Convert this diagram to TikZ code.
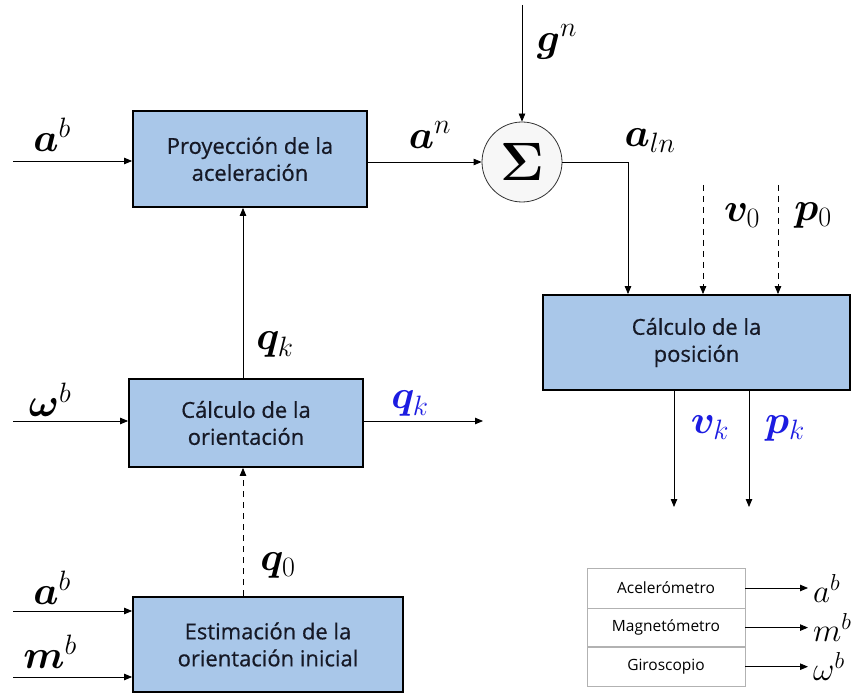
\RequirePackage{fix-cm}
\documentclass[tikz,border=0pt]{standalone}
\usepackage{amsmath,bm}
\usepackage[no-math]{fontspec}
\newfontfamily\bloquefont{Open Sans}[FakeBold=0.6]
\newfontfamily\leyendafont{Open Sans}
\usetikzlibrary{arrows.meta}

\definecolor{bloqueazul}{RGB}{169,199,233}
\definecolor{salidaazul}{RGB}{28,28,225}
\definecolor{textobloque}{RGB}{22,25,38}

\tikzset{
  bloque/.style={draw, line width=1.8pt, fill=bloqueazul, align=center, text=textobloque,
    inner sep=0pt, font=\bloquefont\fontsize{22}{27}\selectfont},
  flecha/.style={line width=0.8pt, -{Triangle[length=8pt,width=6.5pt]}},
  discont/.style={dash pattern=on 6pt off 5pt},
  etiq/.style={inner sep=0pt, font=\fontsize{40}{40}\selectfont},
  leyenda/.style={draw=black!30, line width=0.6pt, minimum width=158pt, inner sep=0pt,
    font=\leyendafont\fontsize{15.5}{18}\selectfont},
}

\begin{document}
\begin{tikzpicture}[x=1pt, y=-1pt]
    \useasboundingbox (0,0) rectangle (855,695);

    % bloques: 133..367 x 111..207, 129..363 x 379..467, 133..403 x 597..692
    \node[bloque, minimum width=234pt, minimum height=96pt] (proy) at (250,159) {Proyección de la\\aceleración};
    \node[bloque, minimum width=234pt, minimum height=88pt] (orient) at (246,423) {Cálculo de la\\orientación};
    \node[bloque, minimum width=270pt, minimum height=95pt] (estim) at (268,644.5) {Estimación de la\\orientación inicial};
    % posición: 543..850 x 295..390
    \node[bloque, minimum width=307pt, minimum height=95pt] (posic) at (696.5,342.5) {Cálculo de la\\posición};

    % sumador
    \node[draw=black!80, fill=black!3, circle, line width=0.8pt, minimum size=80pt, inner sep=0pt,
      font=\fontsize{54}{54}\selectfont] (suma) at (522,162) {$\bm{\Sigma}$};

    % extremos libres
    \coordinate (abin) at (13,161);
    \coordinate (wbin) at (13,421);
    \coordinate (ab0in) at (13,611);
    \coordinate (mbin) at (13,677);
    \coordinate (gin) at (522,5);
    \coordinate (v0in) at (703,185);
    \coordinate (p0in) at (778,185);
    \coordinate (alncol) at (628,0);
    \coordinate (qkout) at (483,421);
    \coordinate (vkout) at (674,507);
    \coordinate (pkout) at (749,507);

    % conexiones
    \draw[flecha] (abin) -- (abin -| proy.west);
    \draw[flecha] (proy.east |- suma.west) -- (suma.west);
    \draw[flecha] (gin) -- (suma.north);
    \draw[flecha] (suma.east) -| (alncol |- posic.north);
    \draw[flecha, discont] (v0in) -- (v0in |- posic.north);
    \draw[flecha, discont] (p0in) -- (p0in |- posic.north);
    \draw[flecha] (posic.south -| vkout) -- (vkout);
    \draw[flecha] (posic.south -| pkout) -- (pkout);
    \draw[flecha] (wbin) -- (wbin -| orient.west);
    \draw[flecha] (orient.east |- qkout) -- (qkout);
    \draw[flecha] ([xshift=-3pt]orient.north) -- ([xshift=-3pt]orient.north |- proy.south);
    \draw[flecha, discont] ([xshift=-3pt]orient.south |- estim.north) -- ([xshift=-3pt]orient.south);
    \draw[flecha] (ab0in) -- (ab0in -| estim.west);
    \draw[flecha] (mbin) -- (mbin -| estim.west);

    % etiquetas
    \node[etiq] (lab1) at (52,135) {$\bm{a}^{b}$};
    \node[etiq] (lan) at (430,135) {$\bm{a}^{n}$};
    \node[etiq] (lgn) at (557,42) {$\bm{g}^{n}$};
    \node[etiq] (laln) at (650,141) {$\bm{a}_{ln}$};
    \node[etiq] (lv0) at (742,216) {$\bm{v}_{0}$};
    \node[etiq] (lp0) at (813,216) {$\bm{p}_{0}$};
    \node[etiq] (lqk) at (275,345) {$\bm{q}_{k}$};
    \node[etiq] (lwb) at (50,400) {$\bm{\omega}^{b}$};
    \node[etiq, text=salidaazul] (lqkout) at (410,404) {$\bm{q}_{k}$};
    \node[etiq, text=salidaazul] (lvk) at (710,428) {$\bm{v}_{k}$};
    \node[etiq, text=salidaazul] (lpk) at (785,428) {$\bm{p}_{k}$};
    \node[etiq] (lq0) at (278,565) {$\bm{q}_{0}$};
    \node[etiq] (lab2) at (52,588) {$\bm{a}^{b}$};
    \node[etiq] (lmb) at (50,652) {$\bm{m}^{b}$};

    % leyenda: 587..745 x 568..685
    \node[leyenda, minimum height=40pt] (acel) at (666,588) {Acelerómetro};
    \node[leyenda, minimum height=38pt, anchor=north] (magn) at (acel.south) {Magnetómetro};
    \node[leyenda, minimum height=39pt, anchor=north] (giro) at (magn.south) {Giroscopio};
    \coordinate (sal) at (808,0);
    \draw[flecha] (acel.east) -- (acel.east -| sal);
    \draw[flecha] (magn.east) -- (magn.east -| sal);
    \draw[flecha] (giro.east) -- (giro.east -| sal);
    \node[etiq, anchor=west, font=\fontsize{33}{33}\selectfont] (lsa) at ([xshift=5pt]acel.east -| sal) {$a^{b}$};
    \node[etiq, anchor=west, font=\fontsize{33}{33}\selectfont] (lsm) at ([xshift=5pt]magn.east -| sal) {$m^{b}$};
    \node[etiq, anchor=west, font=\fontsize{33}{33}\selectfont] (lsw) at ([xshift=5pt]giro.east -| sal) {$\omega^{b}$};
\end{tikzpicture}
\end{document}
